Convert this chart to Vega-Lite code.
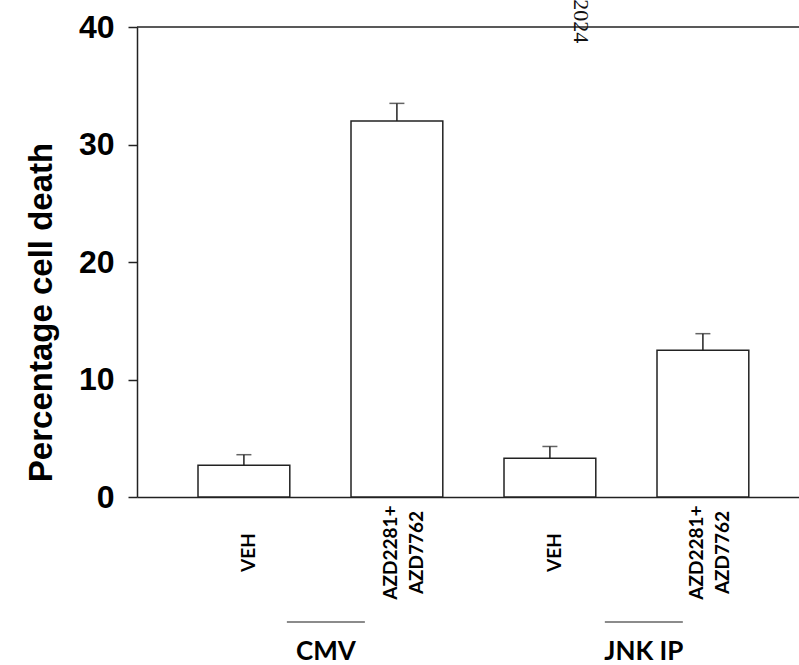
{
  "$schema": "https://vega.github.io/schema/vega-lite/v6.json",
  "width": 662,
  "height": 470,
  "autosize": {"type": "none"},
  "padding": {"left": 137, "top": 27, "right": 0, "bottom": 168},
  "background": "white",
  "config": {
    "view": {"stroke": null},
    "axis": {"grid": false, "domainColor": "#222", "tickColor": "#222", "domainWidth": 1.5, "tickWidth": 1.5},
    "axisX": {
      "ticks": false, "labelAngle": -90, "labelAlign": "center", "labelBaseline": "middle",
      "labelPadding": 55, "labelFont": "Lato", "labelFontWeight": "bold", "labelFontSize": 19,
      "labelLineHeight": 26, "labelColor": "#000"
    },
    "axisY": {
      "tickSize": 9, "labelPadding": 14,
      "labelFont": "Liberation Sans", "labelFontWeight": "bold", "labelFontSize": 32, "labelColor": "#000",
      "titleFont": "Liberation Sans", "titleFontWeight": "bold",
      "titleFontSize": 33, "titleColor": "#000", "titlePadding": 20
    }
  },
  "datasets": {
    "bars": [
      {"cond": "CMV VEH", "group": "CMV", "mean": 2.7, "upper": 3.6},
      {"cond": "CMV AZD", "group": "CMV", "mean": 32.0, "upper": 33.5},
      {"cond": "JNK VEH", "group": "JNK IP", "mean": 3.3, "upper": 4.3},
      {"cond": "JNK AZD", "group": "JNK IP", "mean": 12.5, "upper": 13.9}
    ],
    "groups": [
      {"group": "CMV"},
      {"group": "JNK IP"}
    ]
  },
  "layer": [
    {
      "layer": [
        {
          "data": {"name": "bars"},
          "mark": {"type": "bar", "fill": "white", "stroke": "#222", "strokeWidth": 1.5},
          "encoding": {
            "x": {
              "field": "cond", "type": "nominal", "sort": null,
              "scale": {"paddingInner": 0.4, "paddingOuter": 0.3634, "align": 0.5486},
              "axis": {
                "title": null, "labelFontSize": 19,
                "labelOffset": {"condition": {"test": "indexof(datum.value, 'AZD') >= 0", "value": -6}, "value": 5},
                "labelExpr": "indexof(datum.value, 'AZD') >= 0 ? ['AZD2281+', 'AZD7762'] : 'VEH'"
              }
            },
            "y": {
              "field": "mean", "type": "quantitative",
              "scale": {"domain": [0, 40], "nice": false, "zero": true},
              "axis": {
                "values": [0, 10, 20, 30, 40],
                "title": "Percentage cell death", "titleY": 285
              }
            }
          }
        },
        {
          "data": {"name": "bars"},
          "mark": {"type": "rule", "color": "#222", "strokeWidth": 1.5},
          "encoding": {
            "x": {"field": "cond", "type": "nominal", "sort": null},
            "y": {"field": "mean", "type": "quantitative"},
            "y2": {"field": "upper"}
          }
        },
        {
          "data": {"name": "bars"},
          "mark": {"type": "tick", "color": "#222", "size": 15, "thickness": 1.5, "orient": "horizontal"},
          "encoding": {
            "x": {"field": "cond", "type": "nominal", "sort": null},
            "y": {"field": "upper", "type": "quantitative"}
          }
        },
        {
          "data": {"values": [{"ref": "top"}]},
          "mark": {"type": "rule", "color": "#222", "strokeWidth": 1.5},
          "encoding": {"y": {"datum": 40}}
        },
        {
          "data": {"values": [{"note": "2024"}]},
          "mark": {"type": "text", "angle": 90, "font": "Liberation Serif", "fontSize": 22, "color": "#111", "align": "center", "baseline": "middle"},
          "encoding": {
            "x": {"datum": "JNK VEH", "bandPosition": 0.84},
            "y": {"datum": 40.5},
            "text": {"field": "note"}
          }
        }
      ]
    },
    {
      "data": {"name": "groups"},
      "layer": [
        {
          "mark": {"type": "tick", "color": "#222", "size": 78, "thickness": 1.5, "orient": "horizontal"},
          "encoding": {
            "x": {"field": "group", "type": "nominal", "sort": null, "scale": {"type": "point", "padding": 0.541, "align": 0.549}, "axis": null},
            "y": {"datum": -10.64}
          }
        },
        {
          "mark": {"type": "text", "font": "Lato", "fontWeight": "bold", "fontSize": 26, "color": "#000", "align": "center", "baseline": "alphabetic"},
          "encoding": {
            "x": {"field": "group", "type": "nominal", "sort": null, "scale": {"type": "point", "padding": 0.541, "align": 0.549}, "axis": null},
            "y": {"datum": -13.87},
            "text": {"field": "group"}
          }
        }
      ]
    }
  ],
  "resolve": {"scale": {"x": "independent"}}
}
